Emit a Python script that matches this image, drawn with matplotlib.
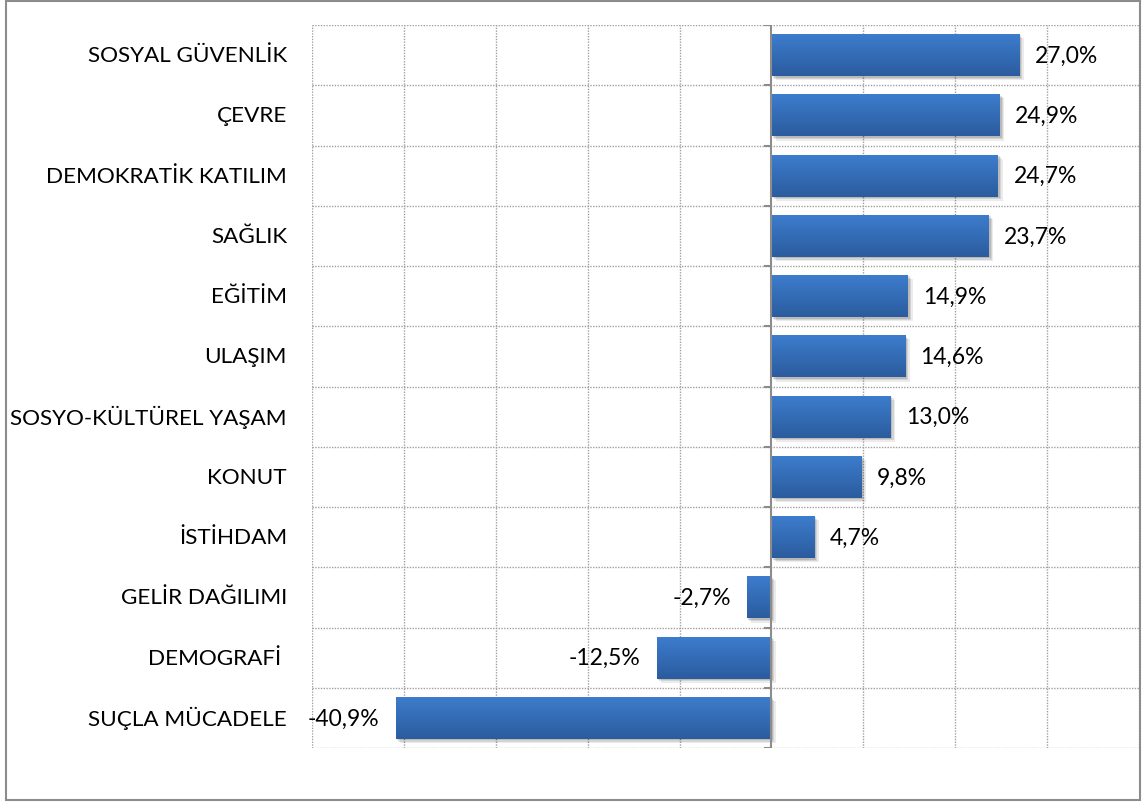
import matplotlib
matplotlib.use("Agg")
import matplotlib.pyplot as plt
import matplotlib.patheffects as pe
from matplotlib.patches import Rectangle
import numpy as np

categories = ["SOSYAL GÜVENLİK", "ÇEVRE", "DEMOKRATİK KATILIM", "SAĞLIK", "EĞİTİM",
              "ULAŞIM", "SOSYO-KÜLTÜREL YAŞAM", "KONUT", "İSTİHDAM", "GELİR DAĞILIMI",
              "DEMOGRAFİ ", "SUÇLA MÜCADELE"]
values = [27.0, 24.9, 24.7, 23.7, 14.9, 14.6, 13.0, 9.8, 4.7, -2.7, -12.5, -40.9]

FONT = "Lato"
plt.rcParams["font.family"] = [FONT, "DejaVu Sans"]

W, H = 1146, 803
fig = plt.figure(figsize=(W / 100, H / 100), dpi=100)
fig.patch.set_facecolor("white")

# outer chart border
fig.add_artist(Rectangle((6 / W, 1 - 801 / H), (1140 - 6) / W, (801 - 2) / H,
                         transform=fig.transFigure, fill=False,
                         edgecolor="#8c8c8c", linewidth=1.5, zorder=0))

left, right, top, bottom = 312 / W, 1139 / W, 1 - 26 / H, 1 - 749 / H
ax = fig.add_axes([left, bottom, right - left, top - bottom])
ax.set_xlim(-50, 40)
n = len(categories)
ax.set_ylim(n - 0.5, -0.5)

for s in ax.spines.values():
    s.set_visible(False)

# grid lines
grid_kw = dict(color="#a0a0a0", linestyle=(0, (1.0, 1.0)), linewidth=1.0, zorder=1)
for x in np.arange(-50, 41, 10):
    if x != 0:
        ax.axvline(x, **grid_kw)
for yb in np.arange(-0.5, n, 1.0):
    ax.axhline(yb, **grid_kw)

ax.set_xticks([])
ax.set_yticks([])

# zero axis with tick marks
ax.axvline(0, color="#8c8c8c", linewidth=1.5, zorder=5)
tick_len = 7 / ((right - left) * W) * 90
for yb in np.arange(-0.5, n, 1.0):
    ax.plot([-tick_len, 0], [yb, yb], color="#8c8c8c", linewidth=1.5, zorder=5,
            solid_capstyle="butt")

# gradient bars
grad = np.linspace(0, 1, 64).reshape(-1, 1)
top_c = np.array([0x3d, 0x7d, 0xce]) / 255
bot_c = np.array([0x2b, 0x5c, 0x9e]) / 255
img = top_c[None, None, :] * (1 - grad[:, :, None]) + bot_c[None, None, :] * grad[:, :, None]

bh = 0.7
shadow = [pe.SimplePatchShadow(offset=(3, -3), shadow_rgbFace="#000000", alpha=0.08),
          pe.SimplePatchShadow(offset=(2, -2), shadow_rgbFace="#000000", alpha=0.10),
          pe.SimplePatchShadow(offset=(1, -1), shadow_rgbFace="#000000", alpha=0.12),
          pe.Normal()]
bars = ax.barh(range(n), values, height=bh, color="#3369b3", zorder=3,
               path_effects=shadow)
for i, (b, v) in enumerate(zip(bars, values)):
    x0, x1 = min(0, v), max(0, v)
    im = ax.imshow(img, extent=(x0, x1, i + bh / 2, i - bh / 2), aspect="auto",
                   zorder=4, interpolation="bilinear")
    im.set_clip_path(b)

# data labels
px = 90 / ((right - left) * W)
for i, v in enumerate(values):
    lab = f"{v:.1f}%".replace(".", ",")
    if v >= 0:
        ax.text(v + 15 * px, i, lab, ha="left", va="center", fontsize=16.5, color="black", zorder=6)
    else:
        ax.text(v - 16 * px, i, lab, ha="right", va="center", fontsize=16.5, color="black", zorder=6)

# category labels
for i, c in enumerate(categories):
    ax.text(-50 - 25 * px, i, c, ha="right", va="center", fontsize=16.2, color="black")

fig.savefig("out.png", dpi=100)
